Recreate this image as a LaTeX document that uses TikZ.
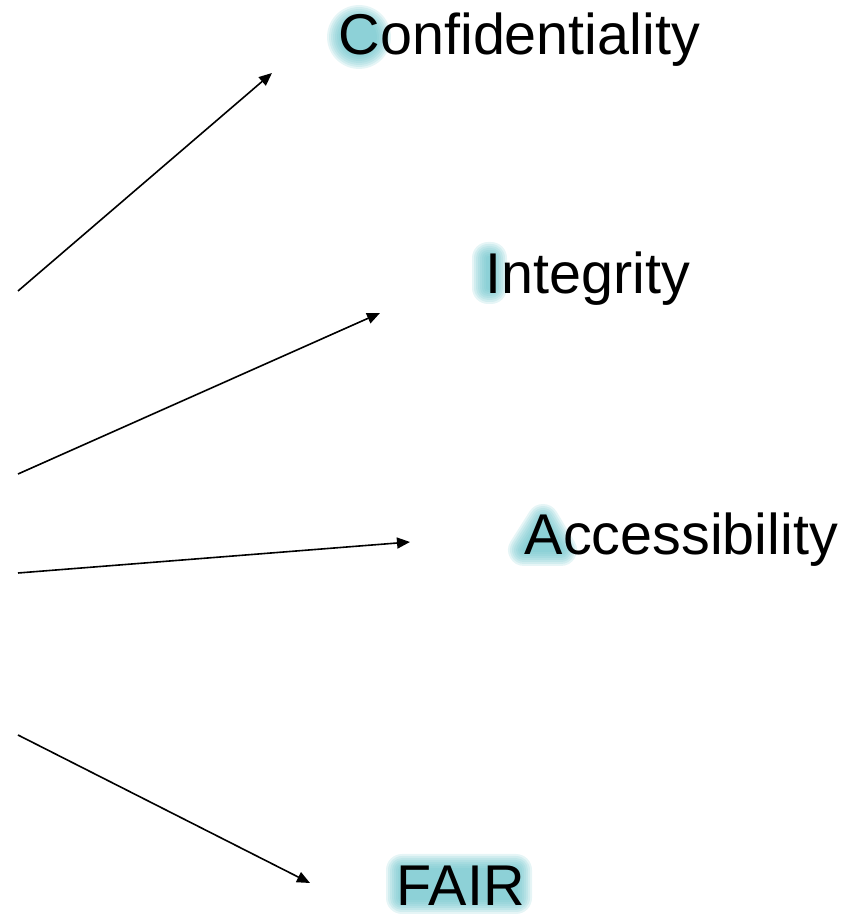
\documentclass[tikz,border=0pt]{standalone}
\usepackage{fontspec}
\setmainfont{Liberation Sans}
\usetikzlibrary{arrows.meta}
\definecolor{glowteal}{RGB}{108,196,203}
\begin{document}
\begin{tikzpicture}[x=1pt,y=1pt,-{Triangle[length=13pt,width=11pt]},line width=1.6pt,
    main node/.style={anchor=base west, inner sep=0pt, font=\fontsize{57.5}{62}\selectfont},
    halo/.style={draw=glowteal, fill=glowteal, line join=round, -}]
  \useasboundingbox (0,0) rectangle (846,914);

  % soft halos behind the first letters
  \foreach \w in {32,28,24,20,16,12,8,4} {
    \begin{scope}[transparency group, opacity=0.17]
      \filldraw[halo, line width=\w pt] (359,877) circle (16);
      \filldraw[halo, line width=\w pt] (488,626) rectangle (491,656);
      \filldraw[halo, line width=\w pt] (543,394) -- (524,364) -- (561,364) -- cycle;
      \filldraw[halo, line width=\w pt] (402,16) rectangle (516,44);
    \end{scope}
  }

  \node[main node] (1) at (338,859) {Confidentiality};
  \node[main node] (2) at (485,620) {Integrity};
  \node[main node] (3) at (524,359) {Accessibility};
  \node[main node] (4) at (396,9) {FAIR};

  \coordinate (s1) at (18,623);
  \coordinate (s2) at (18,440);
  \coordinate (s3) at (18,341);
  \coordinate (s4) at (18,179);
  \coordinate (t1) at (272,841);
  \coordinate (t2) at (380,601);
  \coordinate (t3) at (410,372);
  \coordinate (t4) at (310,31);

  \draw (s1) -- (t1);
  \draw (s2) -- (t2);
  \draw (s3) -- (t3);
  \draw (s4) -- (t4);
\end{tikzpicture}
\end{document}
